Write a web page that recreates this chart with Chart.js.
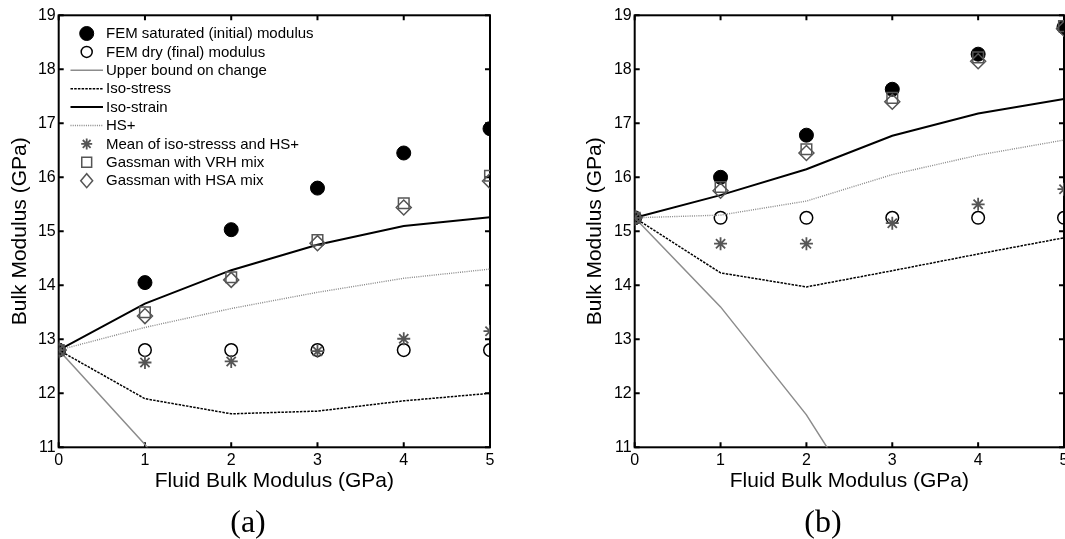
<!DOCTYPE html>
<html><head><meta charset="utf-8">
<script src="https://cdn.jsdelivr.net/npm/chart.js@4/dist/chart.umd.min.js"></script>
<style>
html,body{margin:0;padding:0;background:#fff}
body{width:1065px;height:539px;overflow:hidden;position:relative}
#wa{position:absolute;left:0;top:0;width:540px;height:539px}
#wb{position:absolute;left:540px;top:0;width:545px;height:539px}
.lab{position:absolute;top:501px;font-family:"Liberation Serif","Times New Roman",serif;font-size:32px;line-height:40px;transform:translateX(-50%);color:#000;white-space:nowrap}
</style></head><body>
<div id="wa"><canvas id="ca" width="540" height="539"></canvas></div>
<div id="wb"><canvas id="cb" width="545" height="539"></canvas></div>
<div class="lab" style="left:248px">(a)</div>
<div class="lab" style="left:823px">(b)</div>
<script>
// ---- data ----
const fluidK = [0, 1, 2, 3, 4, 5];
const xTicks = [0, 1, 2, 3, 4, 5];
const yTicks = [11, 12, 13, 14, 15, 16, 17, 18, 19];
const xTitle = 'Fluid Bulk Modulus (GPa)';
const yTitle = 'Bulk Modulus (GPa)';
const panelLabels = ['(a)', '(b)'];
const seriesNames = [
  'FEM saturated (initial) modulus',
  'FEM dry (final) modulus',
  'Upper bound on change',
  'Iso-stress',
  'Iso-strain',
  'HS+',
  'Mean of iso-stresss and HS+',
  'Gassman with VRH mix',
  'Gassman with HSA mix'
];
// panel (a)
const a_sat       = [12.8, 14.05, 15.03, 15.8, 16.45, 16.9];
const a_dry       = [12.8, 12.8, 12.8, 12.8, 12.8, 12.8];
const a_upper     = [12.8, 11.05, 9.0, 6.6, 3.9, 0.9];
const a_isoStress = [12.8, 11.9, 11.62, 11.67, 11.86, 12.0];
const a_isoStrain = [12.8, 13.66, 14.28, 14.75, 15.1, 15.26];
const a_hsPlus    = [12.8, 13.22, 13.57, 13.87, 14.13, 14.3];
const a_mean      = [12.8, 12.57, 12.59, 12.78, 13.01, 13.15];
const a_vrh       = [12.8, 13.5, 14.15, 14.84, 15.52, 16.03];
const a_hsa       = [12.8, 13.43, 14.1, 14.78, 15.44, 15.93];
// panel (b)
const b_sat       = [15.25, 16.0, 16.78, 17.63, 18.28, 18.78];
const b_dry       = [15.25, 15.25, 15.25, 15.25, 15.25, 15.25];
const b_upper     = [15.25, 13.6, 11.6, 9.1, 6.3, 3.2];
const b_isoStress = [15.25, 14.23, 13.97, 14.27, 14.58, 14.88];
const b_isoStrain = [15.25, 15.67, 16.15, 16.77, 17.18, 17.45];
const b_hsPlus    = [15.25, 15.3, 15.56, 16.05, 16.41, 16.69];
const b_mean      = [15.25, 14.77, 14.77, 15.15, 15.5, 15.78];
const b_vrh       = [15.25, 15.82, 16.52, 17.47, 18.22, 18.8];
const b_hsa       = [15.25, 15.75, 16.45, 17.4, 18.15, 18.75];

// ---- styles ----
const GRAY_M = '#555555';
const FONT = '"Liberation Sans", Arial, sans-serif';
const pts = ys => fluidK.map((x, i) => ({x, y: ys[i]}));

function buildDatasets(sat, dry, upper, iso1, iso2, hs, mean, vrh, hsa) {
  const N = 9;
  const list = [
    {data: pts(sat), showLine: false, pointStyle: 'circle', pointRadius: 7, pointBackgroundColor: '#000', pointBorderColor: '#000', pointBorderWidth: 1, legendRadius: 7},
    {data: pts(dry), showLine: false, pointStyle: 'circle', pointRadius: 6.3, pointBackgroundColor: 'rgba(0,0,0,0)', pointBorderColor: '#000', pointBorderWidth: 1.5, legendRadius: 5.5},
    {data: pts(upper), showLine: true, pointRadius: 0, borderColor: '#8c8c8c', borderWidth: 1.5},
    {data: pts(iso1), showLine: true, pointRadius: 0, borderColor: '#000', borderWidth: 1.5, borderDash: [2.5, 1.2]},
    {data: pts(iso2), showLine: true, pointRadius: 0, borderColor: '#000', borderWidth: 2},
    {data: pts(hs), showLine: true, pointRadius: 0, borderColor: '#888888', borderWidth: 1.4, borderDash: [1, 1.2]},
    {data: pts(mean), showLine: false, pointStyle: 'star', pointRadius: 6.5, pointBackgroundColor: 'rgba(0,0,0,0)', pointBorderColor: GRAY_M, pointBorderWidth: 1.8, legendRadius: 5.5},
    {data: pts(vrh), showLine: false, pointStyle: 'rect', pointRadius: 7.5, pointBackgroundColor: 'rgba(0,0,0,0)', pointBorderColor: GRAY_M, pointBorderWidth: 1.5, legendRadius: 7},
    {data: pts(hsa), showLine: false, pointStyle: 'rectRot', pointRadius: 7.5, pointBackgroundColor: 'rgba(0,0,0,0)', pointBorderColor: GRAY_M, pointBorderWidth: 1.5, legendRadius: 7}
  ];
  return list.map((d, i) => Object.assign({label: seriesNames[i], order: N - i, tension: 0, fill: false, pointHoverRadius: 0}, d));
}

// box + inward ticks (MATLAB style)
const boxPlugin = {
  id: 'boxTicks',
  beforeDatasetsDraw(chart) {
    const {ctx, chartArea: a, scales} = chart;
    ctx.save();
    ctx.strokeStyle = '#000';
    ctx.lineWidth = 2;
    ctx.setLineDash([]);
    ctx.strokeRect(a.left, a.top, a.right - a.left, a.bottom - a.top);
    const L = 5;
    ctx.beginPath();
    xTicks.forEach(v => {
      const px = scales.x.getPixelForValue(v);
      ctx.moveTo(px, a.bottom); ctx.lineTo(px, a.bottom - L);
      ctx.moveTo(px, a.top); ctx.lineTo(px, a.top + L);
    });
    yTicks.forEach(v => {
      const py = scales.y.getPixelForValue(v);
      ctx.moveTo(a.left, py); ctx.lineTo(a.left + L, py);
      ctx.moveTo(a.right, py); ctx.lineTo(a.right - L, py);
    });
    ctx.stroke();
    ctx.restore();
  }
};

function drawMarker(ctx, style, x, y, r, fill, stroke, lw) {
  ctx.save();
  ctx.lineWidth = lw; ctx.strokeStyle = stroke; ctx.fillStyle = fill;
  ctx.beginPath();
  if (style === 'circle') {
    ctx.arc(x, y, r, 0, Math.PI * 2);
    ctx.fill(); ctx.stroke();
  } else if (style === 'rect') {
    const s = r * Math.SQRT1_2;
    ctx.rect(x - s, y - s, 2 * s, 2 * s); ctx.stroke();
  } else if (style === 'rectRot') {
    ctx.moveTo(x - r * 0.85, y); ctx.lineTo(x, y + r); ctx.lineTo(x + r * 0.85, y); ctx.lineTo(x, y - r); ctx.closePath(); ctx.stroke();
  } else if (style === 'star') {
    for (let k = 0; k < 4; k++) {
      const ang = k * Math.PI / 4;
      ctx.moveTo(x - Math.cos(ang) * r, y - Math.sin(ang) * r);
      ctx.lineTo(x + Math.cos(ang) * r, y + Math.sin(ang) * r);
    }
    ctx.stroke();
  }
  ctx.restore();
}

const legendPlugin = {
  id: 'inLegend',
  afterDatasetsDraw(chart, args, opts) {
    if (!opts || !opts.show) return;
    const ctx = chart.ctx;
    ctx.save();
    ctx.font = '15px ' + FONT;
    ctx.textBaseline = 'middle';
    ctx.textAlign = 'left';
    chart.data.datasets.forEach((ds, i) => {
      const y = opts.y0 + i * opts.dy;
      if (ds.showLine) {
        ctx.save();
        ctx.strokeStyle = ds.borderColor; ctx.lineWidth = ds.borderWidth;
        ctx.setLineDash(ds.borderDash || []);
        ctx.beginPath(); ctx.moveTo(opts.lx0, y); ctx.lineTo(opts.lx1, y); ctx.stroke();
        ctx.restore();
      } else {
        drawMarker(ctx, ds.pointStyle, opts.mx, y, ds.legendRadius, ds.pointBackgroundColor, ds.pointBorderColor, ds.pointBorderWidth);
      }
      ctx.fillStyle = '#000';
      ctx.fillText(ds.label, opts.tx, y + 0.5);
    });
    ctx.restore();
  }
};

function makeChart(id, datasets, pad, yAxisWidth, showLegend) {
  return new Chart(document.getElementById(id), {
    type: 'scatter',
    data: {datasets},
    plugins: [boxPlugin, legendPlugin],
    options: {
      responsive: false,
      animation: false,
      events: [],
      layout: {padding: pad},
      plugins: {
        legend: {display: false},
        tooltip: {enabled: false},
        inLegend: {show: showLegend, y0: 33.5, dy: 18.4, mx: 86.7, lx0: 70.5, lx1: 103, tx: 106}
      },
      scales: {
        x: {
          type: 'linear', min: 0, max: 5,
          grid: {display: false, drawTicks: false},
          border: {display: false},
          afterBuildTicks: s => { s.ticks = xTicks.map(v => ({value: v})); },
          afterFit: s => { s.height = 47; s.paddingLeft = 0; s.paddingRight = 0; },
          ticks: {color: '#000', font: {family: FONT, size: 16}, padding: 4, maxRotation: 0, autoSkip: false},
          title: {display: true, text: xTitle, color: '#000', font: {family: FONT, size: 21}, padding: 0}
        },
        y: {
          type: 'linear', min: 11, max: 19,
          grid: {display: false, drawTicks: false},
          border: {display: false},
          afterBuildTicks: s => { s.ticks = yTicks.map(v => ({value: v})); },
          afterFit: s => { s.width = yAxisWidth; s.paddingTop = 0; s.paddingBottom = 0; },
          ticks: {color: '#000', font: {family: FONT, size: 16}, padding: 3, autoSkip: false},
          title: {display: true, text: yTitle, color: '#000', font: {family: FONT, size: 21}, padding: {top: 7.4, bottom: 0}}
        }
      }
    }
  });
}

makeChart('ca',
  buildDatasets(a_sat, a_dry, a_upper, a_isoStress, a_isoStrain, a_hsPlus, a_mean, a_vrh, a_hsa),
  {left: 0, right: 50, top: 15.3, bottom: 44.7}, 58.7, true);
makeChart('cb',
  buildDatasets(b_sat, b_dry, b_upper, b_isoStress, b_isoStrain, b_hsPlus, b_mean, b_vrh, b_hsa),
  {left: 35, right: 21, top: 15.3, bottom: 44.7}, 59.7, false);
</script>
</body></html>
